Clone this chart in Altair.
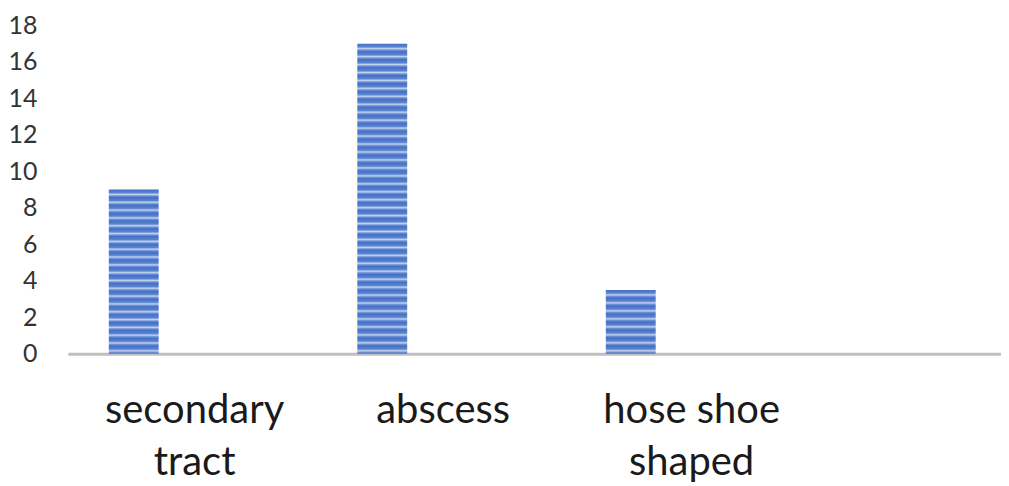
import altair as alt
import pandas as pd

categories = ["secondary tract", "abscess", "hose shoe shaped"]
values = [9, 17, 3.5]
y_ticks = [0, 2, 4, 6, 8, 10, 12, 14, 16, 18]

df = pd.DataFrame({"category": categories, "value": values})

PLOT_H = 329
PX_PER_UNIT = PLOT_H / 18.0


def stripes(value, period=8.0):
    n = max(2, int(round(value * PX_PER_UNIT / period)))
    stops = []
    for i in range(n):
        base = i / n
        step = 1.0 / n
        stops += [
            {"offset": base, "color": "#4470C6"},
            {"offset": base + step * 0.40, "color": "#5A83D0"},
            {"offset": base + step * 0.62, "color": "#C3D2EE"},
            {"offset": base + step * 0.82, "color": "#6B90D7"},
        ]
    stops.append({"offset": 1.0, "color": "#4470C6"})
    return {"gradient": "linear", "x1": 0, "y1": 0, "x2": 0, "y2": 1, "stops": stops}


x_enc = alt.X(
    "category:N",
    sort=categories,
    title=None,
    scale=alt.Scale(domain=categories, paddingInner=0, paddingOuter=0.3775, align=0.0133),
    axis=alt.Axis(
        labelAngle=0,
        labelFont="Lato",
        labelFontSize=40,
        labelColor="#1a1a1a",
        labelBaseline="top",
        labelPadding=37,
        labelLineHeight=52,
        labelLimit=400,
        labelExpr="datum.value == 'secondary tract' ? ['secondary', 'tract'] : "
                  "datum.value == 'hose shoe shaped' ? ['hose shoe', 'shaped'] : datum.label",
        ticks=False,
        domainColor="#BFBFBF",
        domainWidth=3,
        grid=False,
    ),
)
y_enc = alt.Y(
    "value:Q",
    title=None,
    scale=alt.Scale(domain=[0, 18], nice=False),
    axis=alt.Axis(
        values=y_ticks,
        labelFont="Lato",
        labelFontSize=25,
        labelColor="#333333",
        labelPadding=31,
        ticks=False,
        domain=False,
        grid=False,
    ),
)

layers = []
for cat, val in zip(categories, values):
    layers.append(
        alt.Chart(df)
        .transform_filter(alt.datum.category == cat)
        .mark_bar(width=50, xOffset=-61, color=stripes(val))
        .encode(x=x_enc, y=y_enc)
    )

chart = (
    alt.layer(*layers)
    .properties(
        width=935,
        height=PLOT_H,
        autosize=alt.AutoSizeParams(type="none"),
        padding={"left": 60, "top": 17, "right": 0, "bottom": 131},
        view=alt.ViewBackground(stroke="white", strokeWidth=0, fill="white"),
    )
    .configure_view(stroke="white", strokeWidth=0)
    .configure(background="white")
)

chart.save("out.html", embed_options={"renderer": "svg", "actions": False})
